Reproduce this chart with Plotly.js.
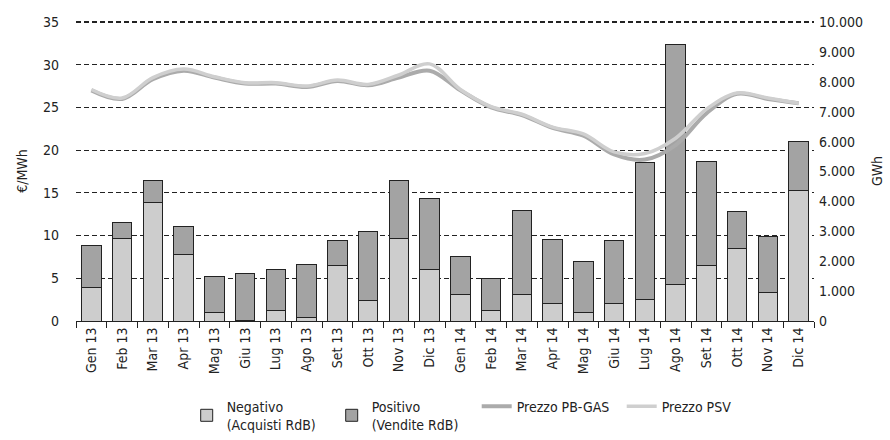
<!DOCTYPE html>
<html><head><meta charset="utf-8">
<script src="https://cdn.plot.ly/plotly-3.0.1.min.js"></script>
<style>body{margin:0;background:#fff}#c{width:890px;height:440px}</style>
</head><body><div id="c"></div>
<script>
const months = ["Gen 13","Feb 13","Mar 13","Apr 13","Mag 13","Giu 13","Lug 13","Ago 13","Set 13","Ott 13","Nov 13","Dic 13",
                "Gen 14","Feb 14","Mar 14","Apr 14","Mag 14","Giu 14","Lug 14","Ago 14","Set 14","Ott 14","Nov 14","Dic 14"];
// GWh
const negativo = [1130,2760,3970,2230,300,30,360,130,1860,690,2760,1720,880,350,880,570,290,570,720,1230,1860,2430,940,4370];
const positivo = [1400,540,745,930,1175,1555,1360,1745,840,2300,1925,2375,1290,1065,2805,2165,1710,2115,4565,8025,3485,1245,1885,1630];
// €/MWh
const prezzoPB  = [27.0,26.0,28.3,29.3,28.5,27.8,27.8,27.4,28.1,27.6,28.5,29.3,27.0,25.0,24.1,22.6,21.7,19.5,18.9,20.6,24.3,26.6,26.0,25.5];
const prezzoPSV = [27.1,26.1,28.5,29.5,28.6,27.9,27.9,27.5,28.2,27.7,28.8,30.1,27.1,25.1,24.2,22.7,21.9,19.8,19.6,21.4,24.8,26.7,26.1,25.5];
const leftTicks = [0,5,10,15,20,25,30,35];
const rightTicks = [0,1000,2000,3000,4000,5000,6000,7000,8000,9000,10000];

const FONT = "'DejaVu Sans Condensed','Liberation Sans Narrow','Liberation Sans',sans-serif";
const traces = [
  {type:'bar', name:'Negativo<br>(Acquisti RdB)', x:months, y:negativo, yaxis:'y',
   marker:{color:'#cdcdcd', line:{color:'#222', width:1}}},
  {type:'bar', name:'Positivo<br>(Vendite RdB)', x:months, y:positivo, yaxis:'y',
   marker:{color:'#a3a3a3', line:{color:'#222', width:1}}},
  {type:'scatter', mode:'lines', name:'Prezzo PB-GAS', x:months, y:prezzoPB, yaxis:'y2',
   line:{color:'#ababab', width:4, shape:'spline'}},
  {type:'scatter', mode:'lines', name:'Prezzo PSV', x:months, y:prezzoPSV, yaxis:'y2',
   line:{color:'#cfcfcf', width:3.5, shape:'spline'}}
];
const layout = {
  width:890, height:440,
  margin:{l:76, r:76, t:21, b:119, autoexpand:false},
  paper_bgcolor:'#fff', plot_bgcolor:'#fff',
  separators:',.',
  font:{family:FONT, size:14, color:'#222'},
  barmode:'stack', bargap:0.37,
  showlegend:true,
  legend:{orientation:'h', x:0.15, y:-0.232, xanchor:'left', yanchor:'top',
          font:{family:FONT, size:14, color:'#222'}, entrywidth:100, traceorder:'normal',
          itemwidth:30, tracegroupgap:0},
  xaxis:{type:'category', tickangle:-90, showgrid:false, showline:true, linecolor:'#222', linewidth:1,
         ticks:'outside', tickson:'boundaries', ticklen:6, tickcolor:'#222', automargin:false,
         tickfont:{family:FONT, size:14, color:'#222'}, zeroline:false},
  yaxis:{side:'right', range:[0,10000*35.12/35], tickvals:rightTicks, tickformat:',d', showgrid:false,
         zeroline:false, showline:false, ticks:'', automargin:false, ticklabelstandoff:4,
         title:{text:'GWh', font:{family:FONT, size:14}, standoff:10},
         tickfont:{family:FONT, size:14, color:'#222'}},
  yaxis2:{overlaying:'y', side:'left', range:[0,35.12], tickvals:leftTicks, showgrid:true, automargin:false,
          gridcolor:'#222', griddash:'5px,3px', gridwidth:1.2, zeroline:false, showline:false, ticks:'',
          ticklabelstandoff:16,
          title:{text:'€/MWh', font:{family:FONT, size:14}, standoff:12},
          tickfont:{family:FONT, size:14, color:'#222'}}
};
Plotly.newPlot('c', traces, layout, {displayModeBar:false, staticPlot:true});
</script></body></html>
